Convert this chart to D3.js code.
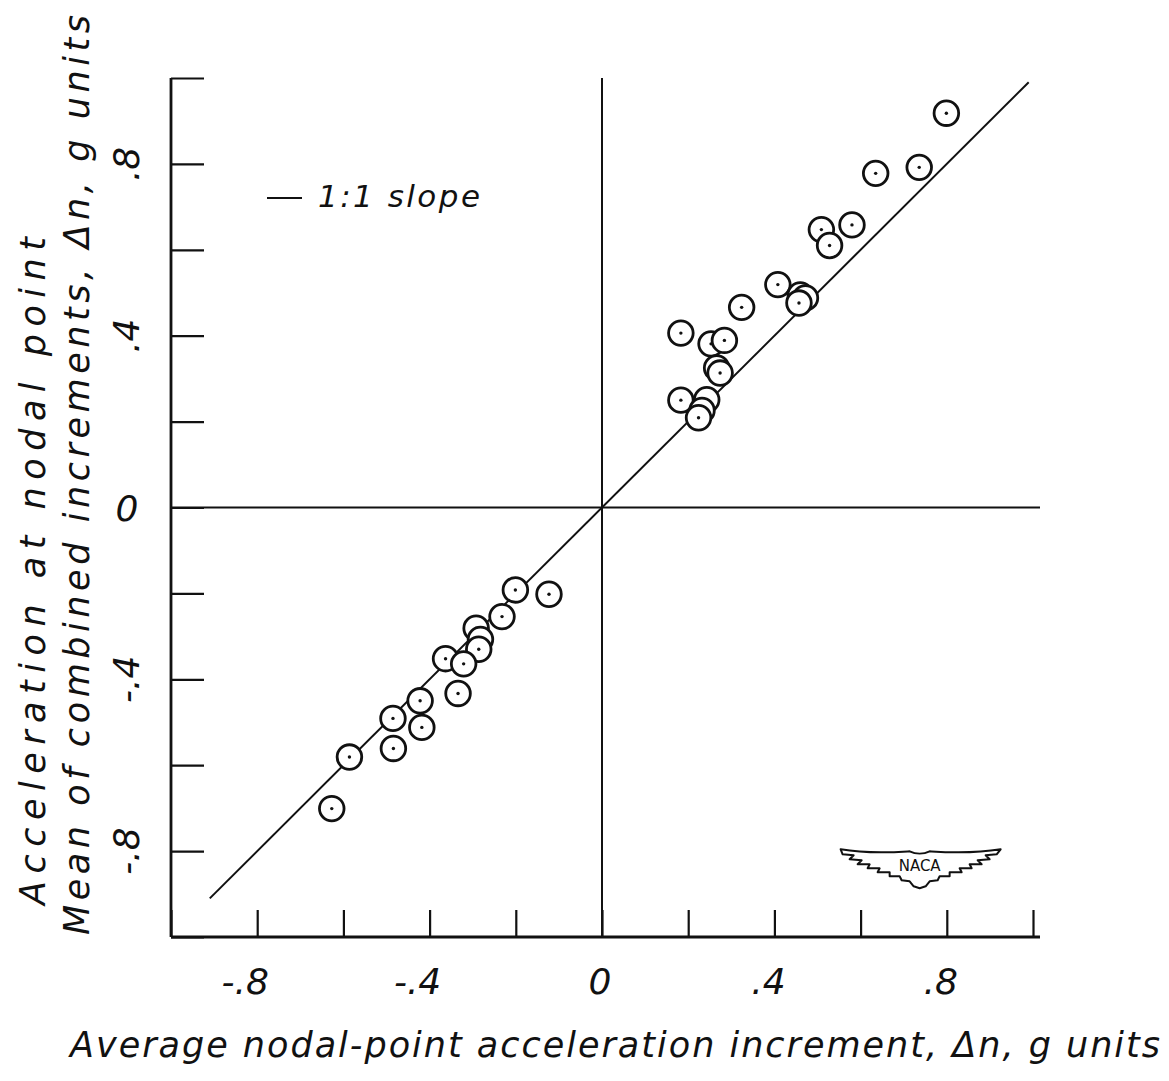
<!DOCTYPE html>
<html><head><meta charset="utf-8">
<script src="https://cdn.jsdelivr.net/npm/d3@7"></script>
<style>body{margin:0;background:#fff}svg{display:block}</style>
</head><body>
<svg id="c" width="1169" height="1081"></svg>
<script>
// Data: average nodal-point increment (x) vs mean of combined increments (y), g units
const pointsX = [0.799, 0.635, 0.736, 0.509, 0.528, 0.580, 0.408, 0.460, 0.472, 0.457,
                 0.324, 0.183, 0.253, 0.284, 0.266, 0.274, 0.183, 0.243, 0.232, 0.224,
                 -0.201, -0.123, -0.232, -0.292, -0.282, -0.286, -0.363, -0.321, -0.334,
                 -0.422, -0.485, -0.418, -0.484, -0.586, -0.627];
const pointsY = [0.918, 0.778, 0.792, 0.647, 0.610, 0.658, 0.519, 0.495, 0.488, 0.476,
                 0.466, 0.406, 0.381, 0.389, 0.325, 0.313, 0.250, 0.251, 0.226, 0.209,
                 -0.192, -0.202, -0.254, -0.281, -0.307, -0.330, -0.352, -0.364, -0.433,
                 -0.450, -0.491, -0.512, -0.561, -0.581, -0.701];
const slopeLine = [-0.91, 0.99];           // 1:1 reference line extent
const tickValues = [-1, -0.8, -0.6, -0.4, -0.2, 0, 0.2, 0.4, 0.6, 0.8, 1];
const labelValues = [-0.8, -0.4, 0, 0.4, 0.8];
const labelTexts = ["-.8", "-.4", "0", ".4", ".8"];
const xTitle = "Average nodal-point acceleration increment, \u0394n, g units";
const yTitle1 = "Acceleration  at  nodal point";
const yTitle2 = "Mean of combined increments, \u0394n, g units";
const legendText = "1:1 slope";

const svg = d3.select("#c");
const FONT = "'DejaVu Sans', 'Liberation Sans', sans-serif";
const ink = "#111";

const x = d3.scaleLinear().domain([-1, 1]).range([171, 1033]);
const y = d3.scaleLinear().domain([-1, 1]).range([937, 78]);

// X axis (ticks pointing inward, no labels)
const xAxis = d3.axisBottom(x).tickValues(tickValues).tickSize(-27).tickSizeOuter(0).tickFormat("");
const gx = svg.append("g").attr("transform", `translate(0,${y(-1)})`).call(xAxis);
gx.select(".domain").remove();
gx.selectAll(".tick line").attr("stroke", ink).attr("stroke-width", 2.2);
svg.append("line").attr("x1", x(-1)).attr("x2", x(1) + 7).attr("y1", y(-1)).attr("y2", y(-1))
  .attr("stroke", ink).attr("stroke-width", 2.8);

// Y axis (ticks pointing inward)
const yAxis = d3.axisLeft(y).tickValues(tickValues).tickSize(-33).tickSizeOuter(0).tickFormat("");
const gy = svg.append("g").attr("transform", `translate(${x(-1)},0)`).call(yAxis);
gy.select(".domain").remove();
gy.selectAll(".tick line").attr("stroke", ink).attr("stroke-width", 2.2);
svg.append("line").attr("x1", x(-1)).attr("x2", x(-1)).attr("y1", y(1)).attr("y2", y(-1))
  .attr("stroke", ink).attr("stroke-width", 2.8);

// Zero lines
svg.append("line").attr("x1", x(0)).attr("x2", x(0)).attr("y1", y(1)).attr("y2", y(-1))
  .attr("stroke", ink).attr("stroke-width", 2);
svg.append("line").attr("x1", x(-1)).attr("x2", x(1) + 7).attr("y1", y(0)).attr("y2", y(0))
  .attr("stroke", ink).attr("stroke-width", 2);

// 1:1 slope line
svg.append("line").attr("x1", x(slopeLine[0])).attr("y1", y(slopeLine[0]))
  .attr("x2", x(slopeLine[1])).attr("y2", y(slopeLine[1]))
  .attr("stroke", ink).attr("stroke-width", 2);

// X tick labels
svg.append("g").selectAll("text").data(labelValues).join("text")
  .attr("x", d => x(d) + (d < 0 ? -12 : (d > 0 ? -6 : -2)))
  .attr("y", 994)
  .attr("text-anchor", "middle")
  .attr("font-family", FONT).attr("font-style", "italic").attr("font-size", 36)
  .attr("fill", ink)
  .text((d, i) => labelTexts[i]);

// Y tick labels (rotated, except zero)
svg.append("g").selectAll("text").data(labelValues).join("text")
  .attr("transform", d => d === 0 ? `translate(127,${y(d) + 13})` : `translate(139,${y(d)}) rotate(-90)`)
  .attr("text-anchor", "middle")
  .attr("font-family", FONT).attr("font-style", "italic").attr("font-size", 36)
  .attr("fill", ink)
  .text((d, i) => labelTexts[i]);

// Axis titles
svg.append("text").attr("x", 70).attr("y", 1057)
  .attr("font-family", FONT).attr("font-style", "italic").attr("font-size", 35)
  .attr("textLength", 1090).attr("lengthAdjust", "spacing")
  .attr("fill", ink).text(xTitle);
svg.append("text").attr("transform", "translate(45,905) rotate(-90)")
  .attr("font-family", FONT).attr("font-style", "italic").attr("font-size", 35)
  .attr("textLength", 668).attr("lengthAdjust", "spacing")
  .attr("fill", ink).text(yTitle1);
svg.append("text").attr("transform", "translate(89,935) rotate(-90)")
  .attr("font-family", FONT).attr("font-style", "italic").attr("font-size", 35)
  .attr("textLength", 920).attr("lengthAdjust", "spacing")
  .attr("fill", ink).text(yTitle2);

// Legend
svg.append("line").attr("x1", 267).attr("x2", 302).attr("y1", 198).attr("y2", 198)
  .attr("stroke", ink).attr("stroke-width", 2.2);
svg.append("text").attr("x", 318).attr("y", 207)
  .attr("font-family", FONT).attr("font-style", "italic").attr("font-size", 31)
  .attr("textLength", 162).attr("lengthAdjust", "spacing")
  .attr("fill", ink).text(legendText);

// Data points: open circles with center dot
const pts = pointsX.map((v, i) => ({ x: v, y: pointsY[i] }));
const pg = svg.append("g").selectAll("g").data(pts).join("g")
  .attr("transform", d => `translate(${x(d.x)},${y(d.y)})`);
pg.append("circle").attr("r", 12.3).attr("fill", "#fff").attr("stroke", ink).attr("stroke-width", 2.8);
pg.append("circle").attr("r", 1.7).attr("fill", ink);

// NACA wing emblem
const logo = svg.append("g").attr("transform", `translate(${x(0.737)},${y(-0.833)})`);
const wing = "M-79,-16 C-50,-11 -25,-13 -10,-14 C-4,-11 4,-11 10,-14 C25,-13 50,-11 81,-16 " +
  "L77,-11 L66,-10 L70,-6 L58,-5 L62,-1 L50,-1 L52,3 L40,3 L42,7 L30,7 L30,11 L20,11 L18,15 " +
  "L10,16 L6,21 L0,23 L-6,21 L-10,16 L-18,15 L-20,11 L-30,11 L-30,7 L-42,7 L-40,3 L-52,3 " +
  "L-50,-1 L-62,-1 L-58,-5 L-70,-6 L-66,-10 L-77,-11 Z";
logo.append("path").attr("d", wing).attr("fill", "#fff").attr("stroke", ink).attr("stroke-width", 2)
  .attr("stroke-linejoin", "round");
logo.append("text").attr("x", 0).attr("y", 6).attr("text-anchor", "middle")
  .attr("font-family", FONT).attr("font-size", 15).attr("fill", ink).text("NACA");
</script>
</body></html>
